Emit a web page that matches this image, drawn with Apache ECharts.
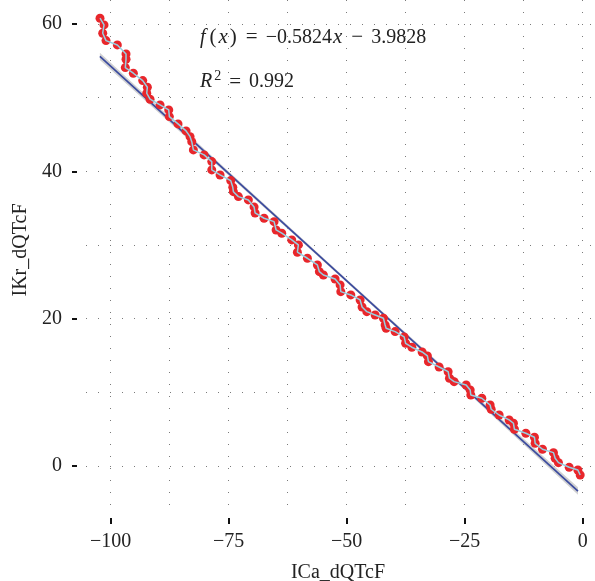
<!DOCTYPE html>
<html lang="en">
<head>
    <meta charset="UTF-8">
    <title>IKr vs ICa</title>
    <script src="https://cdn.jsdelivr.net/npm/echarts@6.0.0/dist/echarts.min.js"></script>
    <style>
        html, body { margin: 0; padding: 0; background: #fff; }
        #main { width: 595px; height: 581px; }
    </style>
</head>
<body>
<div id="main"></div>
<script type="text/javascript">
    // observed points (ICa_dQTcF, IKr_dQTcF), in drawing order
    var ptX = [-102.27, -101.42, -101.70, -101.00, -98.60, -96.76, -96.76, -96.91, -95.21, -93.22,
        -92.24, -92.37, -91.67, -89.55, -87.71, -87.58, -85.74, -84.04, -83.19, -82.83,
        -82.49, -80.22, -78.59, -78.59, -76.83, -74.57, -74.14, -74.01, -72.95, -70.84,
        -69.63, -69.41, -67.51, -65.39, -64.96, -63.76, -61.64, -60.24, -60.45, -58.33,
        -56.21, -55.79, -54.94, -52.46, -51.40, -51.25, -49.13, -47.16, -46.74, -45.74,
        -43.98, -42.22, -41.86, -41.65, -39.74, -37.83, -37.52, -36.20, -34.02, -32.90,
        -32.68, -30.42, -28.51, -28.23, -27.24, -24.69, -23.84, -23.70, -21.37, -19.61,
        -19.39, -17.70, -15.58, -14.67, -14.46, -12.04, -10.22, -10.07, -8.52, -6.19,
        -5.83, -5.13, -2.86, -1.02, -0.53];
    var ptY = [60.79, 59.88, 58.75, 57.75, 57.16, 55.94, 55.22, 54.08, 53.32, 52.32,
        51.42, 50.60, 49.79, 49.02, 48.34, 47.43, 46.44, 45.49, 44.71, 44.03,
        42.91, 42.23, 41.32, 40.19, 39.51, 38.74, 37.84, 37.24, 36.57, 36.12,
        35.17, 34.35, 33.63, 33.17, 32.04, 31.60, 30.69, 30.01, 29.02, 28.20,
        27.29, 26.38, 25.93, 25.39, 24.58, 23.67, 23.22, 22.54, 21.59, 20.95,
        20.50, 20.05, 19.14, 18.70, 18.24, 17.52, 16.66, 16.12, 15.48, 14.94,
        14.16, 13.44, 12.80, 11.91, 11.45, 11.00, 10.32, 9.64, 9.19, 8.28,
        7.70, 6.92, 6.25, 5.80, 4.98, 4.44, 3.90, 3.08, 2.27, 1.81,
        1.05, 0.45, -0.18, -0.54, -1.22];

    // fitted line and its confidence band
    var fitX = [-102.3, -1.0];
    var fitY = [55.6, -3.4];
    var bandX = [-102.3, -75, -50, -25, -1.0];
    var bandLow = [55.10, 39.42, 24.94, 10.30, -3.90];
    var bandHigh = [56.10, 39.98, 25.34, 10.86, -2.90];

    // ticks
    var xTicks = [-100, -75, -50, -25, 0];
    var xGridTicks = [-100, -87.5, -75, -62.5, -50, -37.5, -25, -12.5, 0];
    var yTicks = [0, 20, 40, 60];
    var yGridTicks = [0, 10, 20, 30, 40, 50, 60];

    var formulaText = '{f|f}{p|(}{i|x}{p|)}{op|=}{t|\u22120.5824}{i|x}{op|\u2212}{t|3.9828}';
    var r2Text = '{r|R}{sup|2}{op|=}{t|0.992}';

    function zip(a, b) {
        return a.map(function (v, i) { return [v, b[i]]; });
    }

    function fmt(v) {
        return v < 0 ? '\u2212' + Math.abs(v) : String(v);
    }

    var serif = 'Liberation Serif';
    var xMin = -105.24, xMax = 2.61, yMin = -6.79, yMax = 63.26;

    var dotted = {color: '#7a7a7a', width: 1, type: [1, 11]};
    var tickStyle = {color: '#111', width: 2};

    var richMath = {
        f: {fontStyle: 'italic', fontFamily: serif, fontSize: 20, padding: [0, 3, 0, 0]},
        i: {fontStyle: 'italic', fontFamily: serif, fontSize: 21, padding: [0, 1, 0, 1]},
        r: {fontStyle: 'italic', fontFamily: serif, fontSize: 20},
        p: {fontFamily: serif, fontSize: 21, padding: [0, 1, 0, 1]},
        t: {fontFamily: serif, fontSize: 20},
        op: {fontFamily: serif, fontSize: 21, padding: [0, 8, 0, 8]},
        sup: {fontFamily: serif, fontSize: 14, padding: [0, 0, 12, 2]}
    };

    var myChart = echarts.init(document.getElementById('main'), null, {renderer: 'canvas'});

    var option = {
        animation: false,
        backgroundColor: '#fff',
        grid: {left: 86, right: 0, top: 0, bottom: 65, containLabel: false},
        xAxis: [
            {
                type: 'value', min: xMin, max: xMax, position: 'bottom', offset: 2,
                axisLine: {show: false, onZero: false},
                axisTick: {show: true, inside: false, customValues: xTicks, length: 6, lineStyle: tickStyle},
                axisLabel: {
                    customValues: xTicks, margin: 14, formatter: fmt,
                    fontFamily: serif, fontSize: 20, color: '#222'
                },
                splitLine: {show: false}
            },
            {
                type: 'value', min: xMin, max: xMax, position: 'bottom', offset: 0,
                axisLine: {show: false, onZero: false},
                axisTick: {show: false, customValues: xGridTicks},
                axisLabel: {show: false, customValues: xGridTicks},
                splitLine: {show: true, lineStyle: dotted}
            }
        ],
        yAxis: [
            {
                type: 'value', min: yMin, max: yMax, position: 'left', offset: 9,
                axisLine: {show: false, onZero: false},
                axisTick: {show: true, inside: false, customValues: yTicks, length: 5, lineStyle: tickStyle},
                axisLabel: {
                    customValues: yTicks, margin: 15, formatter: fmt,
                    fontFamily: serif, fontSize: 20, color: '#222'
                },
                splitLine: {show: false}
            },
            {
                type: 'value', min: yMin, max: yMax, position: 'left', offset: 0,
                axisLine: {show: false, onZero: false},
                axisTick: {show: false, customValues: yGridTicks},
                axisLabel: {show: false, customValues: yGridTicks},
                splitLine: {show: true, lineStyle: dotted}
            }
        ],
        series: [
            {
                // confidence band as a polygon through the axes
                type: 'custom', silent: true, z: 1,
                data: bandX.map(function (x, i) { return [x, bandLow[i], bandHigh[i]]; }),
                renderItem: function (params, api) {
                    if (params.dataIndex !== 0) return;
                    var top = [], bottom = [];
                    for (var i = 0; i < bandX.length; i++) {
                        top.push(api.coord([bandX[i], bandHigh[i]]));
                        bottom.unshift(api.coord([bandX[i], bandLow[i]]));
                    }
                    return {
                        type: 'polygon',
                        shape: {points: top.concat(bottom)},
                        style: {fill: '#c9c9c9', opacity: 0.85}
                    };
                }
            },
            {
                type: 'line', symbol: 'none', silent: true,
                data: zip(fitX, fitY),
                lineStyle: {color: '#3a4a9e', width: 1.7}, z: 2
            },
            {
                type: 'scatter', symbol: 'circle', symbolSize: 9,
                data: zip(ptX, ptY),
                itemStyle: {color: '#e8262b', opacity: 1}, z: 3
            },
            {
                type: 'line', symbol: 'none',
                data: zip(ptX, ptY),
                lineStyle: {color: '#96d0e2', width: 1.5}, z: 4
            }
        ],
        graphic: [
            {
                type: 'text', left: 200, top: 27,
                style: {text: formulaText, fill: '#222', rich: richMath}
            },
            {
                type: 'text', left: 200, top: 69,
                style: {text: r2Text, fill: '#222', rich: richMath}
            },
            {
                type: 'text', x: 338, y: 573,
                style: {
                    text: 'ICa_dQTcF', fontFamily: serif, fontSize: 20, fill: '#222',
                    align: 'center', verticalAlign: 'middle'
                }
            },
            {
                type: 'text', x: 21, y: 250, rotation: Math.PI / 2,
                style: {
                    text: 'IKr_dQTcF', fontFamily: serif, fontSize: 20, fill: '#222',
                    align: 'center', verticalAlign: 'middle'
                }
            }
        ]
    };

    myChart.setOption(option);
</script>
</body>
</html>
